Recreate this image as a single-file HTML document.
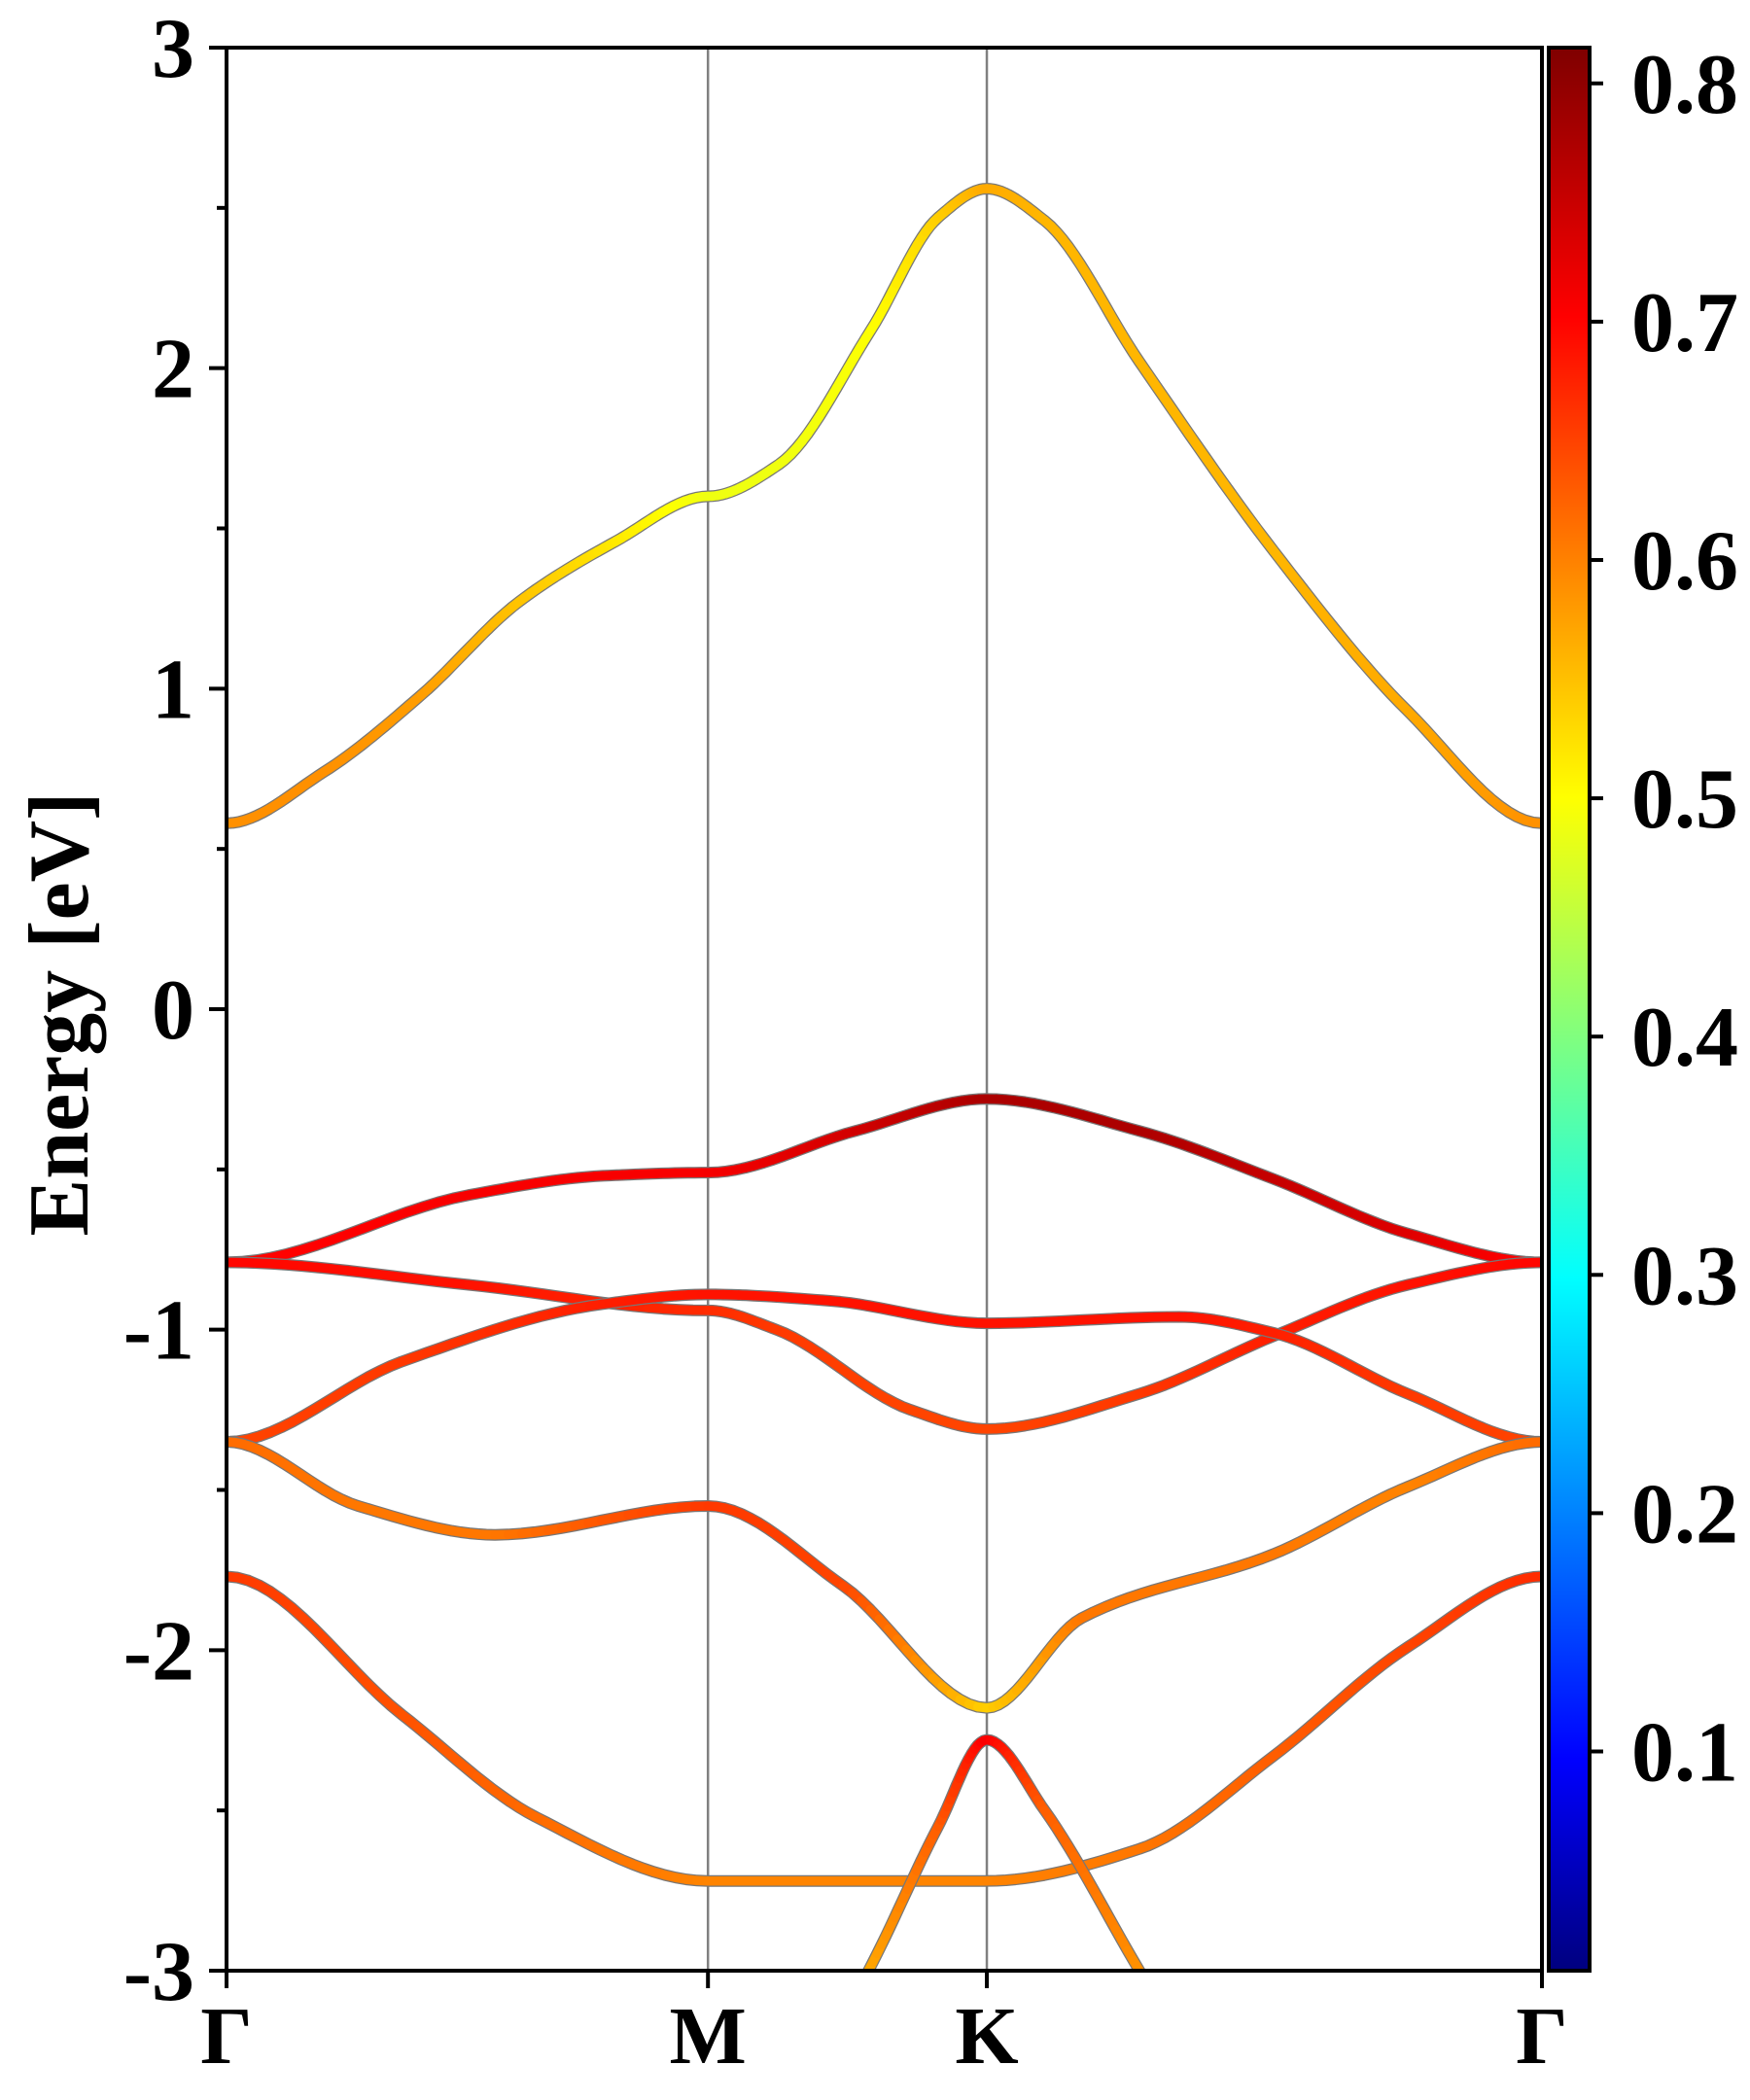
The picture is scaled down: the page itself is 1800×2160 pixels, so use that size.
<!DOCTYPE html>
<html><head><meta charset="utf-8"><style>
html,body{margin:0;padding:0;background:#fff;}
svg{display:block;}
text{font-family:"Liberation Serif","Times New Roman",serif;font-weight:bold;}
</style></head><body>
<svg id="chart" width="1800" height="2160" viewBox="0 0 1800 2160" xmlns="http://www.w3.org/2000/svg">
<defs>
<linearGradient id="jet" x1="0" y1="1" x2="0" y2="0">
<stop offset="0" stop-color="#00007f"/><stop offset="0.11" stop-color="#0000ff"/><stop offset="0.36" stop-color="#00ffff"/>
<stop offset="0.61" stop-color="#ffff00"/><stop offset="0.86" stop-color="#ff0000"/><stop offset="1" stop-color="#7f0000"/>
</linearGradient>
<clipPath id="plotclip"><rect x="233" y="49" width="1353" height="1978"/></clipPath>
</defs>
<g id="bands" clip-path="url(#plotclip)"></g>
<g id="axes"></g>
</svg>
<script>
// k-path positions (fraction of path) for high-symmetry points
const kLabels = ["Γ","M","K","Γ"];
const kPoints = [0, 0.366, 0.578, 1];
const yTicks = [3,2,1,0,-1,-2,-3];
const cbTicks = [0.1,0.2,0.3,0.4,0.5,0.6,0.7,0.8];
// band knots: k fraction, energies (eV), weights
const band1K = [0,0.074,0.148,0.222,0.296,0.366,0.42,0.49,0.541,0.578,0.622,0.694,0.796,0.898,1];
const band1E = [0.58,0.74,0.98,1.27,1.46,1.60,1.70,2.12,2.47,2.56,2.46,2.02,1.43,0.93,0.58];
const band1W = [0.6,0.6,0.59,0.56,0.53,0.5,0.5,0.51,0.55,0.58,0.57,0.57,0.57,0.58,0.6];
const band2K = [0,0.184,0.286,0.366,0.478,0.578,0.694,0.796,0.898,1];
const band2E = [-0.79,-0.58,-0.52,-0.51,-0.38,-0.28,-0.38,-0.53,-0.70,-0.79];
const band2W = [0.71,0.72,0.72,0.72,0.75,0.78,0.78,0.76,0.74,0.71];
const band3K = [0,0.184,0.366,0.418,0.52,0.578,0.694,0.796,0.898,1];
const band3E = [-0.79,-0.86,-0.94,-1.00,-1.25,-1.31,-1.20,-1.02,-0.86,-0.79];
const band3W = [0.71,0.7,0.68,0.67,0.66,0.66,0.67,0.69,0.7,0.71];
const band4K = [0,0.133,0.286,0.366,0.459,0.578,0.724,0.796,0.898,1];
const band4E = [-1.35,-1.10,-0.92,-0.89,-0.91,-0.98,-0.96,-1.01,-1.20,-1.35];
const band4W = [0.66,0.67,0.69,0.7,0.7,0.7,0.7,0.69,0.67,0.66];
const band5K = [0,0.1,0.204,0.366,0.469,0.578,0.65,0.796,0.898,1];
const band5E = [-1.35,-1.55,-1.64,-1.55,-1.80,-2.18,-1.90,-1.70,-1.49,-1.35];
const band5W = [0.63,0.62,0.62,0.67,0.66,0.55,0.62,0.62,0.61,0.63];
const band6K = [0,0.133,0.235,0.366,0.578,0.694,0.796,0.898,1];
const band6E = [-1.77,-2.20,-2.52,-2.72,-2.72,-2.62,-2.33,-1.99,-1.77];
const band6W = [0.67,0.65,0.63,0.61,0.61,0.62,0.64,0.66,0.68];
const band7K = [0.439,0.488,0.541,0.578,0.622,0.694,0.745];
const band7E = [-3.35,-3.0,-2.55,-2.28,-2.5,-3.0,-3.35];
const band7W = [0.57,0.58,0.64,0.72,0.64,0.6,0.6];

const X0=233,X1=1586,Y0=49,Y1=2027,EMAX=3,EMIN=-3,VMIN=0.008,VMAX=0.815;
const CBX=1593,CBW=42;
const xs=k=>X0+k*(X1-X0);
const ys=e=>Y0+(EMAX-e)/(EMAX-EMIN)*(Y1-Y0);
const cby=v=>Y1-(v-VMIN)/(VMAX-VMIN)*(Y1-Y0);
const NS="http://www.w3.org/2000/svg";
function mk(tag,attrs,parent){const e=document.createElementNS(NS,tag);for(const a in attrs)e.setAttribute(a,attrs[a]);parent.appendChild(e);return e;}
function jet(v){const t=(v-VMIN)/(VMAX-VMIN);
 const r=Math.min(Math.max(Math.min(4*t-1.5,-4*t+4.5),0),1);
 const g=Math.min(Math.max(Math.min(4*t-0.5,-4*t+3.5),0),1);
 const b=Math.min(Math.max(Math.min(4*t+0.5,-4*t+2.5),0),1);
 return `rgb(${Math.round(r*255)},${Math.round(g*255)},${Math.round(b*255)})`;}
function isHS(k){return kPoints.some(p=>Math.abs(p-k)<1e-6);}
// monotone cubic tangents, zero slope at high-symmetry points
function tangents(X,Y){const n=X.length,d=[],m=[];
 for(let i=0;i<n-1;i++)d.push((Y[i+1]-Y[i])/(X[i+1]-X[i]));
 for(let i=0;i<n;i++){
  if(i===0||i===n-1||isHS(X[i])){m.push(0);continue;}
  if(d[i-1]*d[i]<=0){m.push(0);continue;}
  const w1=2*(X[i+1]-X[i])+(X[i]-X[i-1]),w2=(X[i+1]-X[i])+2*(X[i]-X[i-1]);
  m.push((w1+w2)/(w1/d[i-1]+w2/d[i]));}
 return m;}
function sample(K,E,W){const pts=[];const n=K.length;const m=tangents(K,E);
 for(let i=0;i<n-1;i++){const h=K[i+1]-K[i];
  for(let s=0;s<16;s++){const t=s/16,t2=t*t,t3=t2*t;
   const e=(2*t3-3*t2+1)*E[i]+(t3-2*t2+t)*h*m[i]+(-2*t3+3*t2)*E[i+1]+(t3-t2)*h*m[i+1];
   pts.push([K[i]+h*t,e,W[i]+(W[i+1]-W[i])*t]);}}
 pts.push([K[n-1],E[n-1],W[n-1]]);return pts;}
const bandsG=document.getElementById('bands');
const axesG=document.getElementById('axes');
[1,2].forEach(i=>{const l=mk('line',{x1:xs(kPoints[i]),x2:xs(kPoints[i]),y1:Y0,y2:Y1,stroke:'#808080','stroke-width':2.5},bandsG);

});
const allBands=[[band1K,band1E,band1W],[band2K,band2E,band2W],[band3K,band3E,band3W],[band4K,band4E,band4W],[band5K,band5E,band5W],[band6K,band6E,band6W],[band7K,band7E,band7W]];
allBands.forEach((b,bi)=>{const pts=sample(b[0],b[1],b[2]);
 const g=mk('g',{},bandsG);
 
 
 const d=pts.map((p,i)=>(i?'L':'M')+xs(p[0]).toFixed(1)+' '+ys(p[1]).toFixed(1)).join(' ');
 mk('path',{d:d,fill:'none',stroke:'#777','stroke-width':12,'stroke-linecap':'round','stroke-linejoin':'round'},g);
 for(let i=0;i<pts.length-1;i++){const a=pts[i],c=pts[i+1];
  mk('line',{x1:xs(a[0]),y1:ys(a[1]),x2:xs(c[0]),y2:ys(c[1]),stroke:jet((a[2]+c[2])/2),'stroke-width':9.5,'stroke-linecap':'round'},g);}
});
const fr=mk('rect',{x:X0,y:Y0,width:X1-X0,height:Y1-Y0,fill:'none',stroke:'#000','stroke-width':4},axesG);


for(let e=EMIN;e<=EMAX+1e-9;e+=0.5){const major=Math.abs(e-Math.round(e))<1e-6;
 mk('line',{x1:X0-(major?18:10),x2:X0,y1:ys(e),y2:ys(e),stroke:'#000','stroke-width':4},axesG);}
const FF='Liberation Serif, Times New Roman, serif';
yTicks.forEach(v=>{const t=mk('text',{x:200,y:ys(v)+30,'text-anchor':'end','font-size':88,'font-family':FF,'font-weight':'bold'},axesG);t.textContent=String(v);
 
 });
kPoints.forEach((k,i)=>{mk('line',{x1:xs(k),x2:xs(k),y1:Y1,y2:Y1+18,stroke:'#000','stroke-width':4},axesG);
 const t=mk('text',{x:xs(k),y:2122,'text-anchor':'middle','font-size':84,'font-family':FF,'font-weight':'bold'},axesG);t.textContent=kLabels[i];
 
 });
const yl=mk('text',{x:0,y:0,transform:'translate(90,1043) rotate(-90)','text-anchor':'middle','font-size':88,'font-family':FF,'font-weight':'bold'},axesG);yl.textContent='Energy [eV]';


const cb=mk('rect',{x:CBX,y:Y0,width:CBW,height:Y1-Y0,fill:'url(#jet)',stroke:'#000','stroke-width':4},axesG);


cbTicks.forEach(v=>{mk('line',{x1:CBX+CBW,x2:CBX+CBW+14,y1:cby(v),y2:cby(v),stroke:'#000','stroke-width':4},axesG);
 const t=mk('text',{x:1678,y:cby(v)+30,'font-size':88,'font-family':FF,'font-weight':'bold'},axesG);t.textContent=v.toFixed(1);
 
 });
</script>
</body></html>
